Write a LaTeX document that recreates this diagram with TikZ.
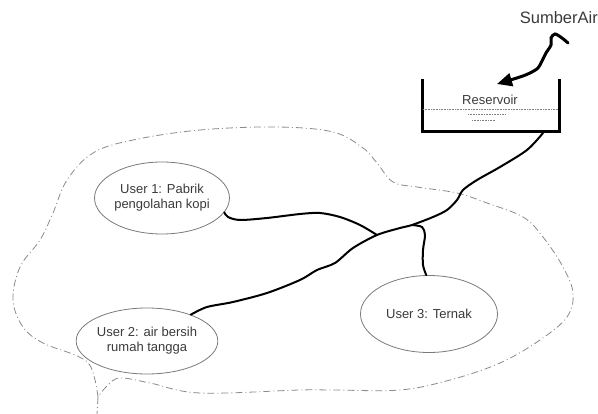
\documentclass[tikz,border=0pt]{standalone}
\usepackage{fontspec}
\newfontfamily\arialf{Liberation Sans}
\usetikzlibrary{shapes.geometric,arrows.meta}
\definecolor{txt}{HTML}{3A3A3A}
\definecolor{edgegray}{HTML}{7A7A7A}
\definecolor{bound}{HTML}{8A8A8A}
\tikzset{
  user/.style={ellipse, draw=edgegray, line width=0.8pt, inner sep=0pt, align=center,
    text=txt, font=\arialf\fontsize{13}{15}\selectfont},
  pipe/.style={line width=2pt, black, line cap=round},
  wall/.style={line width=3pt, black},
  water/.style={line width=0.6pt, gray, densely dotted},
  boundary/.style={bound, line width=0.8pt, dash pattern=on 7pt off 3pt on 1pt off 3pt},
  lbl/.style={text=txt, inner sep=0pt},
}
\begin{document}
\begin{tikzpicture}[x=1pt,y=-1pt]
\useasboundingbox (0,0) rectangle (598,414);
% boundary
\draw[boundary] plot[smooth, tension=0.6] coordinates {(98,397) (95,380) (89,364) (75,355) (43,343) (23,327) (13,300) (20,267) (40,240) (53,213) (67,180) (93,153) (133,140) (200,130) (277,127) (333,132) (363,148) (377,163) (393,182) (417,187) (457,193) (487,203) (523,217) (543,237) (563,267) (573,293) (567,317) (540,340) (500,363) (450,380) (400,390) (333,390) (300,390) (200,393) (150,383) (120,378) (107,386) (98,397)};
\coordinate (tailtop) at (98,397);
\coordinate (tailend) at (97,414);
\draw[boundary] (tailtop) -- (tailend);
% users
\node[user, minimum width=129pt, minimum height=72pt] (u1) at (162,198) {User 1: Pabrik\\pengolahan kopi};
\node[user, minimum width=124pt, minimum height=66pt] (u2) at (147,341) {User 2: air bersih\\rumah tangga};
\node[user, minimum width=137pt, minimum height=77pt] (u3) at (429,314) {User 3: Ternak};
% reservoir
\draw[wall] (422,79) -- (422,132) -- (559,132) -- (559,79);
\node[lbl, font=\arialf\fontsize{13}{15}\selectfont] (res) at (490,100) {Reservoir};
\draw[water] (423,109) -- (558,109);
\draw[water] (468,114) -- (506,114);
\draw[water] (472,120) -- (495,120);
\coordinate (resout) at (543,133);
% source
\node[lbl, font=\arialf\fontsize{16.5}{18}\selectfont, anchor=east] (src) at (598,18) {SumberAir};
\coordinate (srcstart) at (568,43);
\coordinate (srctip) at (497,84);
\draw[line width=3pt, line cap=round, -{Triangle[length=15pt,width=13pt]}] plot[smooth, tension=0.5] coordinates {(srcstart) (562,38) (555,34) (551,38) (551,45) (546,53) (542,61) (538,68) (530,73) (520,77) (srctip)};
% pipes
\coordinate (j1) at (377,235);
\coordinate (j3) at (412,225);
\draw[pipe] plot[smooth, tension=0.5] coordinates {(resout) (527,150) (500,167) (477,180) (463,190) (457,200) (447,210) (433,217) (j3) (400,228) (j1) (353,248) (335,263) (317,270) (300,280) (267,293) (233,302) (207,307) (u2.31)};
\draw[pipe] plot[smooth, tension=0.5] coordinates {(j1) (360,225) (340,217) (320,213) (300,214) (267,218) (240,220) (228,217) (u1.-13)};
\draw[pipe] plot[smooth, tension=0.5] coordinates {(j3) (422,227) (425,235) (423,250) (423,265) (u3.94)};
\end{tikzpicture}
\end{document}
